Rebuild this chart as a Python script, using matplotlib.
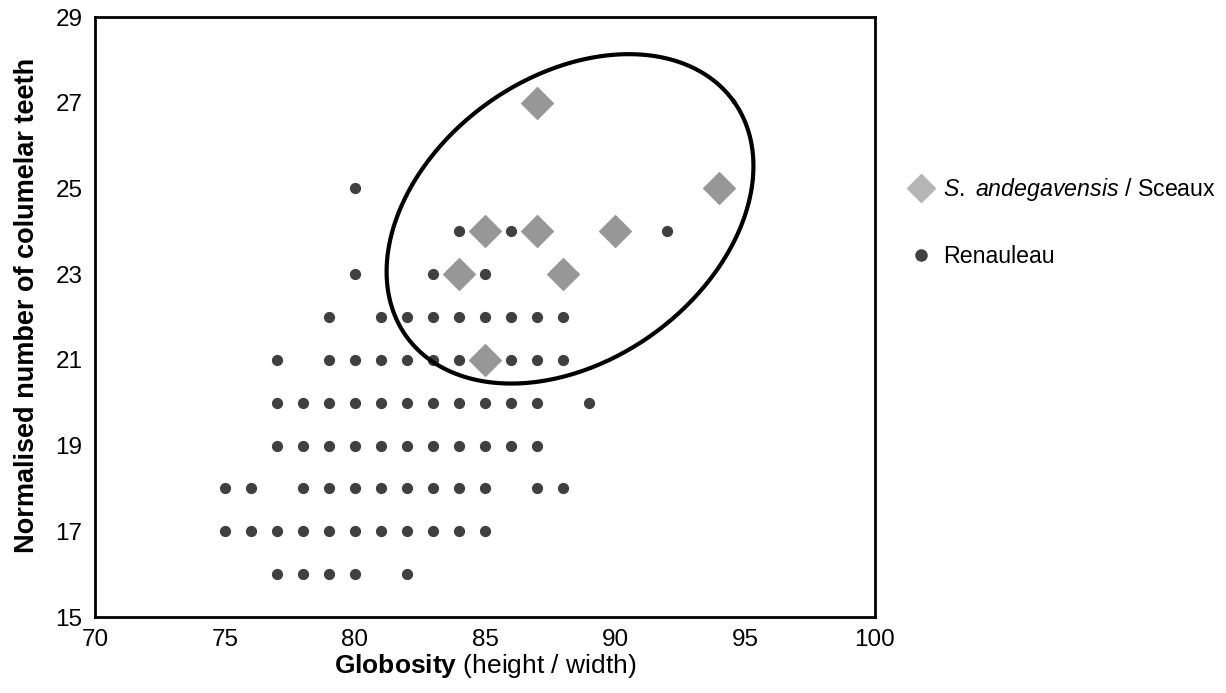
import numpy as np
import matplotlib
matplotlib.use("Agg")
import matplotlib.pyplot as plt
from matplotlib.lines import Line2D

plt.rcParams['font.family'] = ['Liberation Sans', 'DejaVu Sans']
plt.rcParams['mathtext.fontset'] = 'custom'
plt.rcParams['mathtext.rm'] = 'Liberation Sans'
plt.rcParams['mathtext.it'] = 'Liberation Sans:italic'
plt.rcParams['mathtext.bf'] = 'Liberation Sans:bold'

# Renauleau: globosity and teeth count, row by row
ren_x = [80,
         84, 86, 92,
         80, 83, 85,
         79, 81, 82, 83, 84, 85, 86, 87, 88,
         77, 79, 80, 81, 82, 83, 84, 86, 87, 88,
         77, 78, 79, 80, 81, 82, 83, 84, 85, 86, 87, 89,
         77, 78, 79, 80, 81, 82, 83, 84, 85, 86, 87,
         75, 76, 78, 79, 80, 81, 82, 83, 84, 85, 87, 88,
         75, 76, 77, 78, 79, 80, 81, 82, 83, 84, 85,
         77, 78, 79, 80, 82]
ren_y = [25,
         24, 24, 24,
         23, 23, 23,
         22, 22, 22, 22, 22, 22, 22, 22, 22,
         21, 21, 21, 21, 21, 21, 21, 21, 21, 21,
         20, 20, 20, 20, 20, 20, 20, 20, 20, 20, 20, 20,
         19, 19, 19, 19, 19, 19, 19, 19, 19, 19, 19,
         18, 18, 18, 18, 18, 18, 18, 18, 18, 18, 18, 18,
         17, 17, 17, 17, 17, 17, 17, 17, 17, 17, 17,
         16, 16, 16, 16, 16]

# S. andegavensis / Sceaux
sce_x = [87, 94, 85, 87, 90, 84, 88, 85]
sce_y = [27, 25, 24, 24, 24, 23, 23, 21]

# ellipse around Sceaux group (centre in data units, semi-axes in pixels, angle deg)
ell_cx, ell_cy = 88.27, 24.29
ell_a, ell_b, ell_ang = 201.5, 142, 35.7

fig = plt.figure(figsize=(12.26, 6.93), dpi=100)
ax = fig.add_axes([95 / 1226, 76 / 693, 780 / 1226, 600 / 693])

ax.scatter(ren_x, ren_y, s=50, color='#404040', zorder=2)
ax.scatter(sce_x, sce_y, s=260, marker='D', color='#979797', zorder=3)

# ellipse drawn in pixel space then converted to data units
px_x = 780 / 30
px_y = 600 / 14
t = np.linspace(0, 2 * np.pi, 400)
th = np.radians(ell_ang)
ex = ell_cx + (ell_a * np.cos(t) * np.cos(th) - ell_b * np.sin(t) * np.sin(th)) / px_x
ey = ell_cy + (ell_a * np.cos(t) * np.sin(th) + ell_b * np.sin(t) * np.cos(th)) / px_y
ax.plot(ex, ey, color='black', lw=3, zorder=4)

ax.set_xlim(70, 100)
ax.set_ylim(15, 29)
ax.set_xticks(range(70, 101, 5))
ax.set_yticks(range(15, 30, 2))
ax.tick_params(length=0, labelsize=17.5)
ax.tick_params(axis='x', pad=9)
ax.tick_params(axis='y', pad=9)
for sp in ax.spines.values():
    sp.set_linewidth(2)

ax.set_xlabel(r'$\mathbf{Globosity}$ (height / width)', fontsize=19, labelpad=0)
ax.set_ylabel('Normalised number of columelar teeth', fontsize=19.5,
              fontweight='bold', labelpad=11)
ax.yaxis.label.set_y(0.52)

handles = [
    Line2D([], [], marker='D', ls='none', color='#b5b5b5', markersize=14),
    Line2D([], [], marker='o', ls='none', color='#404040', markersize=8),
]
labels = [r'$\mathit{S.\ andegavensis}$ / Sceaux', 'Renauleau']
fig.legend(handles, labels, loc='upper left', bbox_to_anchor=(0.723, 0.776),
           frameon=False, fontsize=16.7, handletextpad=0.35, labelspacing=1.8,
           handlelength=1.2)

fig.savefig('out.png', dpi=100)
